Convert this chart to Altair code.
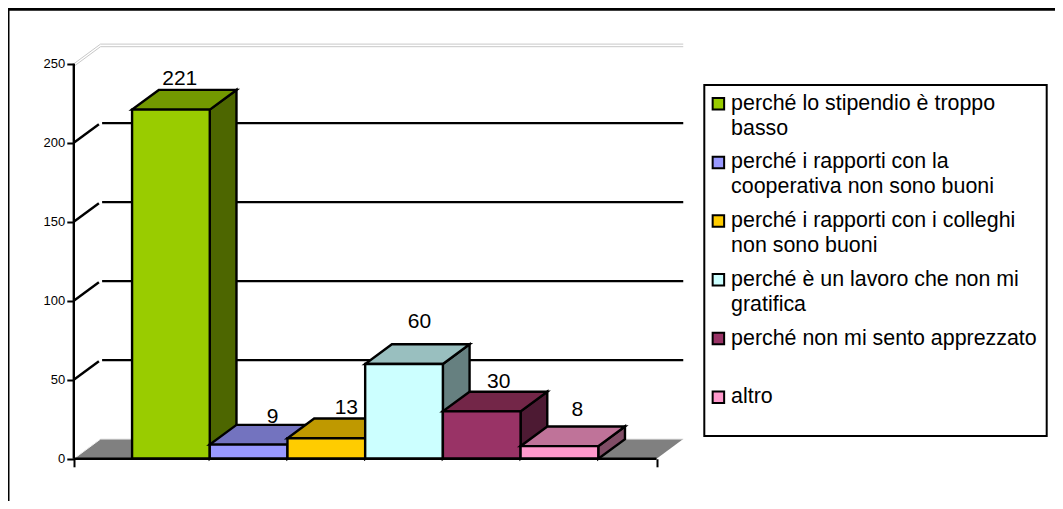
import altair as alt
import pandas as pd

# ---- chart values ----
categories = [
    "perché lo stipendio è troppo\nbasso",
    "perché i rapporti con la\ncooperativa non sono buoni",
    "perché i rapporti con i colleghi\nnon sono buoni",
    "perché è un lavoro che non mi\ngratifica",
    "perché non mi sento apprezzato\n",
    "altro\n",
]
values = [221, 9, 13, 60, 30, 8]
front_colors = ["#99CC00", "#9999FF", "#FFCC00", "#CCFFFF", "#993366", "#FF99CC"]
top_colors = ["#739900", "#7373BF", "#BF9900", "#99BFBF", "#732648", "#BF7399"]
side_colors = ["#4D6600", "#4D4D80", "#806600", "#668080", "#4D1A33", "#804D66"]
y_ticks = [0, 50, 100, 150, 200, 250]
grid_values = [50, 100, 150, 200]

W, H = 1047, 493
UNIT = 77.7      # px per category
VPX = 1.58       # px per value unit
X0 = 65.8        # canvas px of the value axis
Y0 = 450.8       # canvas px of zero
GAP = 0.75       # category gap before first bar
AXIS_LEN = 7.5
DX = 26.7 / UNIT   # depth in category units
DY = 19.7 / VPX    # depth in value units

x_scale = alt.Scale(domain=[-X0 / UNIT, (W - X0) / UNIT], range=[0, W], nice=False, zero=False)
y_scale = alt.Scale(domain=[-(H - Y0) / VPX, Y0 / VPX], range=[H, 0], nice=False, zero=False)

y_axis = alt.Axis(values=y_ticks, offset=-X0, domain=False, grid=False, tickSize=7, tickWidth=2,
                  tickColor="black", labelFont="Liberation Sans", labelFontSize=13,
                  labelColor="black", labelPadding=2, labelOverlap=False, zindex=1)
x_axis = alt.Axis(values=[0, AXIS_LEN], offset=-(H - Y0), domain=False, grid=False, tickSize=8,
                  tickWidth=2, tickColor="black", labels=False, zindex=1)


def X(f="x"):
    return alt.X(f"{f}:Q", scale=x_scale, axis=x_axis, title=None)


def Y(f="y"):
    return alt.Y(f"{f}:Q", scale=y_scale, axis=y_axis, title=None)


layers = []

# frame
layers.append(alt.Chart().mark_rule(color="black", strokeWidth=3).encode(
    x=alt.value(0), y=alt.value(0), y2=alt.value(H)))
layers.append(alt.Chart().mark_rule(color="black", strokeWidth=2.7).encode(
    y=alt.value(1.4), x=alt.value(0), x2=alt.value(W)))

# floor
floor = pd.DataFrame({"y": [0, DY], "x": [0, DX], "x2": [AXIS_LEN, AXIS_LEN + DX]})
layers.append(alt.Chart(floor).mark_area(orient="horizontal", color="#808080", opacity=1).encode(
    y=Y(), x=X(), x2="x2:Q"))

# floor edges and top wall edges
layers.append(alt.Chart(pd.DataFrame({"x": [DX], "x2": [AXIS_LEN + DX], "y": [DY]})).mark_rule(
    color="#E0E0E0", strokeWidth=1).encode(x=X(), x2="x2:Q", y=Y()))
layers.append(alt.Chart(pd.DataFrame({"x": [0, DX], "y": [0, DY]})).mark_line(
    color="#F0F0F0", strokeWidth=1).encode(x=X(), y=Y()))
for off in (0, 2.6):
    layers.append(alt.Chart(pd.DataFrame({"x": [DX], "x2": [AXIS_LEN + DX], "y": [250 + DY]})).mark_rule(
        color="#C8C8C8", strokeWidth=1, yOffset=off).encode(x=X(), x2="x2:Q", y=Y()))
    layers.append(alt.Chart(pd.DataFrame({"x": [0, DX], "y": [250, 250 + DY]})).mark_line(
        color="#C8C8C8", strokeWidth=1, yOffset=off).encode(x=X(), y=Y()))

# wall gridlines
for v in grid_values:
    layers.append(alt.Chart(pd.DataFrame({"x": [0, DX * 0.94], "y": [v, v + DY * 0.94]})).mark_line(
        color="black", strokeWidth=2.4).encode(x=X(), y=Y()))
    layers.append(alt.Chart(pd.DataFrame({"x": [DX * 1.06], "x2": [AXIS_LEN + DX], "y": [v + DY]})).mark_rule(
        color="black", strokeWidth=2.4).encode(x=X(), x2="x2:Q", y=Y()))

# legend box
layers.append(alt.Chart().mark_rect(fill="white", stroke="black", strokeWidth=2).encode(
    x=alt.value(696.3), x2=alt.value(1038.7), y=alt.value(77), y2=alt.value(428)))

# 3-D bars, painted left to right
legend = alt.Legend(title=None, orient="none", legendX=699.7, legendY=85, padding=0,
                    symbolType="square", symbolSize=132,
                    symbolStrokeColor="black", symbolStrokeWidth=2, labelFont="Liberation Sans",
                    labelFontSize=21.4, labelColor="black", labelLimit=400, labelOffset=2,
                    rowPadding=10.7, labelExpr="split(datum.label, '\\n')")
color = alt.Color("cat:N", scale=alt.Scale(domain=categories, range=front_colors), legend=legend, sort=None)
edge = dict(stroke="black", strokeWidth=2.4, opacity=1)
label_dx = [8.8, 24, 20, 15.5, 17, 18]
label_gap = [11, 8, 11, 22, 10, 16.7]

for i, (cat, v) in enumerate(zip(categories, values)):
    x1, x2 = GAP + i, GAP + i + 1
    side = pd.DataFrame({"x": [x2, x2 + DX], "y": [0, DY], "y2": [v, v + DY]})
    top = pd.DataFrame({"y": [v, v + DY], "x": [x1, x1 + DX], "x2": [x2, x2 + DX]})
    front = pd.DataFrame({"x": [x1], "x2": [x2], "y": [0], "y2": [v], "cat": [cat]})
    layers.append(alt.Chart(side).mark_area(orient="vertical", color=side_colors[i], **edge).encode(
        x=X(), y=Y(), y2="y2:Q"))
    layers.append(alt.Chart(top).mark_area(orient="horizontal", color=top_colors[i], **edge).encode(
        y=Y(), x=X(), x2="x2:Q"))
    layers.append(alt.Chart(front).mark_rect(**edge).encode(
        x=X(), x2="x2:Q", y=Y(), y2="y2:Q", color=color))

# axis lines on top
layers.append(alt.Chart(pd.DataFrame({"x": [0], "x2": [AXIS_LEN], "y": [0]})).mark_rule(
    color="black", strokeWidth=2.4).encode(x=X(), x2="x2:Q", y=Y()))
layers.append(alt.Chart(pd.DataFrame({"x": [0], "y": [0], "y2": [250]})).mark_rule(
    color="black", strokeWidth=2.4).encode(x=X(), y=Y(), y2="y2:Q"))

# value labels
for i, v in enumerate(values):
    lab = pd.DataFrame({"x": [GAP + i + 0.5], "y": [v + DY], "t": [str(v)]})
    layers.append(alt.Chart(lab).mark_text(
        font="Liberation Sans", fontSize=21, color="black", baseline="middle",
        dx=label_dx[i], dy=-label_gap[i]).encode(x=X(), y=Y(), text="t:N"))

chart = alt.layer(*layers).properties(
    width=W, height=H, padding=0, autosize=alt.AutoSizeParams(type="none"),
).configure_view(stroke=None)
chart.config.style = alt.StyleConfigIndex(**{"guide-label": {"lineHeight": 25}})

chart.save("out.html", embed_options={"renderer": "svg", "actions": False})
